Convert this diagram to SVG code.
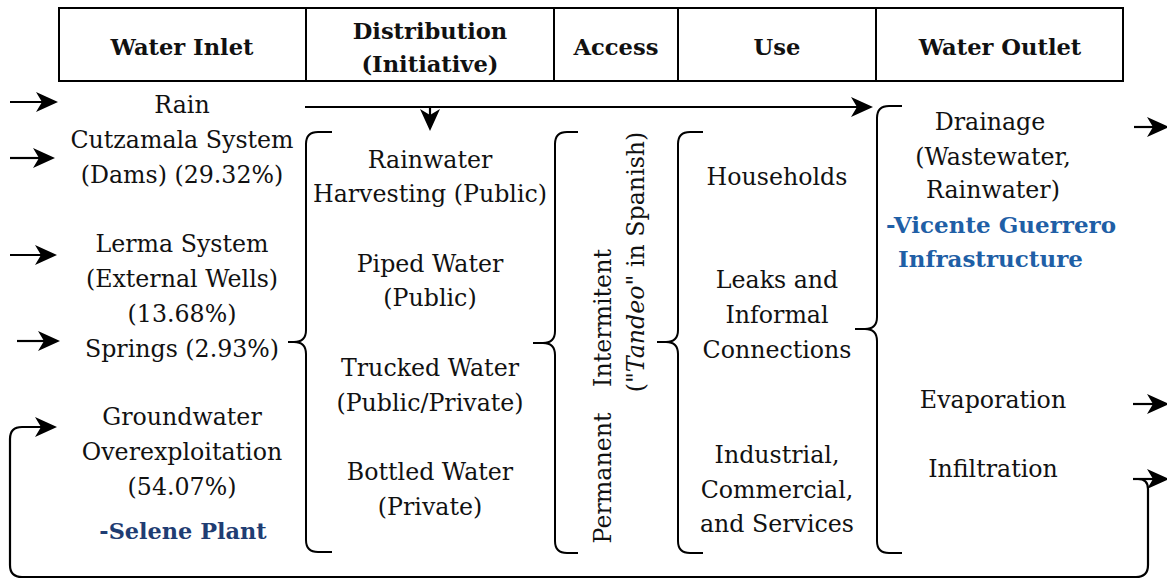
<svg xmlns="http://www.w3.org/2000/svg" width="1167" height="579" viewBox="0 0 1167 579">
<style>
text{font-family:"DejaVu Serif","Liberation Serif",serif;font-size:23.7px;fill:#111;text-anchor:middle}
.h{font-weight:bold;font-size:22.6px}
.b1{font-weight:bold;fill:#1f3d73;font-size:22.4px}
.b2{font-weight:bold;fill:#1f5fa6;text-anchor:start;font-size:23px}
.ln{fill:none;stroke:#000;stroke-width:2.2}
.br{fill:none;stroke:#000;stroke-width:2;stroke-linejoin:round}
.ah{fill:#000;stroke:none}
</style>
<rect width="1167" height="579" fill="#fff"/>
<g id="header">
<rect x="59" y="8" width="1064" height="73" fill="#fff" stroke="#000" stroke-width="2"/>
<line x1="306" y1="8" x2="306" y2="81" stroke="#000" stroke-width="2"/>
<line x1="554" y1="8" x2="554" y2="81" stroke="#000" stroke-width="2"/>
<line x1="678" y1="8" x2="678" y2="81" stroke="#000" stroke-width="2"/>
<line x1="876" y1="8" x2="876" y2="81" stroke="#000" stroke-width="2"/>
<text class="h" x="182" y="55">Water Inlet</text>
<text class="h" x="430" y="39">Distribution</text>
<text class="h" x="430" y="72">(Initiative)</text>
<text class="h" x="616" y="55">Access</text>
<text class="h" x="777" y="55">Use</text>
<text class="h" x="1000" y="55">Water Outlet</text>
</g>
<g id="inlet">
<text x="182" y="113">Rain</text>
<text x="182" y="148">Cutzamala System</text>
<text x="182" y="183">(Dams) (29.32%)</text>
<text x="182" y="252">Lerma System</text>
<text x="182" y="287">(External Wells)</text>
<text x="182" y="322">(13.68%)</text>
<text x="182" y="357">Springs (2.93%)</text>
<text x="182" y="425">Groundwater</text>
<text x="182" y="460">Overexploitation</text>
<text x="182" y="495">(54.07%)</text>
<text class="b1" x="183" y="539">-Selene Plant</text>
</g>
<g id="distribution">
<text x="430" y="168">Rainwater</text>
<text x="430" y="202">Harvesting (Public)</text>
<text x="430" y="272">Piped Water</text>
<text x="430" y="306">(Public)</text>
<text x="430" y="376">Trucked Water</text>
<text x="430" y="411">(Public/Private)</text>
<text x="430" y="480">Bottled Water</text>
<text x="430" y="515">(Private)</text>
</g>
<g id="access">
<text transform="translate(611,478) rotate(-90)">Permanent</text>
<text transform="translate(611,318) rotate(-90)">Intermitent</text>
<text transform="translate(644,262) rotate(-90)">(<tspan font-style="italic">"Tandeo"</tspan> in Spanish)</text>
</g>
<g id="use">
<text x="777" y="185">Households</text>
<text x="777" y="288">Leaks and</text>
<text x="777" y="323">Informal</text>
<text x="777" y="358">Connections</text>
<text x="777" y="463">Industrial,</text>
<text x="777" y="498">Commercial,</text>
<text x="777" y="532">and Services</text>
</g>
<g id="outlet">
<text x="990" y="130">Drainage</text>
<text x="993" y="165">(Wastewater,</text>
<text x="993" y="198">Rainwater)</text>
<text class="b2" x="886" y="233">-Vicente Guerrero</text>
<text class="b2" x="898" y="267">Infrastructure</text>
<text x="993" y="408">Evaporation</text>
<text x="993" y="477">Infiltration</text>
</g>
<g id="braces">
<path class="br" d="M332,132 L318,132 Q306,132 306,144 L306,330 Q306,342 294,342 L288,342 M294,342 Q306,342 306,354 L306,540 Q306,552 318,552 L332,552"/>
<path class="br" d="M578,132 L567,132 Q555,132 555,144 L555,331 Q555,343 543,343 L533,343 M543,343 Q555,343 555,355 L555,541 Q555,553 567,553 L578,553"/>
<path class="br" d="M703,132 L690,132 Q678,132 678,144 L678,330 Q678,342 666,342 L657,342 M666,342 Q678,342 678,354 L678,541 Q678,553 690,553 L703,553"/>
<path class="br" d="M902,106 L889,106 Q877,106 877,118 L877,317 Q877,329 865,329 L855,329 M865,329 Q877,329 877,341 L877,541 Q877,553 889,553 L902,553"/>
</g>
<g id="connectors">
<path class="ln" d="M10,102 L44,102"/><path class="ah" d="M36,92 L58,102 L36,112 L42,102 Z"/>
<path class="ln" d="M10,158 L41,158"/><path class="ah" d="M33,148 L55,158 L33,168 L39,158 Z"/>
<path class="ln" d="M10,255 L43,255"/><path class="ah" d="M35,245 L57,255 L35,265 L41,255 Z"/>
<path class="ln" d="M17,341 L46,341"/><path class="ah" d="M38,331 L60,341 L38,351 L44,341 Z"/>
<path class="ln" d="M305,107 L859,107"/><path class="ah" d="M851,97 L873,107 L851,117 L857,107 Z"/>
<path class="ln" d="M430,107 L430,117"/><path class="ah" d="M420,109 L430,131 L440,109 L430,115 Z"/>
<path class="ln" d="M1134,127 L1155,127"/><path class="ah" d="M1147,117 L1169,127 L1147,137 L1153,127 Z"/>
<path class="ln" d="M1133,404 L1155,404"/><path class="ah" d="M1147,394 L1169,404 L1147,414 L1153,404 Z"/>
<path class="ln" d="M1133,479 L1155,479"/><path class="ah" d="M1147,469 L1169,479 L1147,489 L1153,479 Z"/>
<path class="ln" d="M1133,479 L1138,479 Q1148,479 1148,489 L1148,565 Q1148,577 1136,577 L22,577 Q10,577 10,565 L10,439 Q10,427 22,427 L43,427"/><path class="ah" d="M35,417 L57,427 L35,437 L41,427 Z"/>
</g>
</svg>
